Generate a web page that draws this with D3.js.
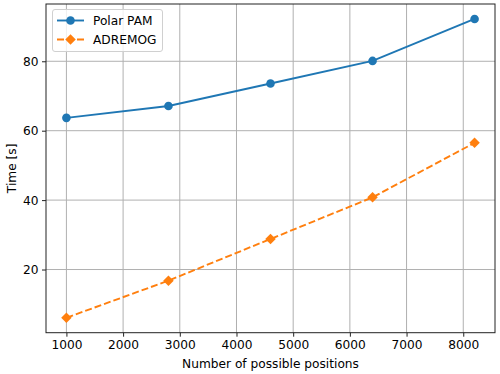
<!DOCTYPE html>
<html><head><meta charset="utf-8">
<script src="https://cdn.jsdelivr.net/npm/d3@7"></script>
<style>body{margin:0;background:#fff}svg{display:block;font-family:"DejaVu Sans",sans-serif}</style>
</head><body><svg id="c" width="500" height="374"></svg>
<script>
const positions = [1000, 2800, 4600, 6400, 8200];
const polarPAM = [63.7, 67.1, 73.6, 80.1, 92.2];
const adremog = [6.1, 16.8, 28.8, 40.8, 56.5];
const xTicks = [1000, 2000, 3000, 4000, 5000, 6000, 7000, 8000];
const yTicks = [20, 40, 60, 80];
const seriesNames = ["Polar PAM", "ADREMOG"];
const colors = ["#1f77b4", "#ff7f0e"];

const svg = d3.select("#c");
const L = 46, R = 495, T = 4, B = 332.7;
const x = d3.scaleLinear().domain([640, 8560]).range([L, R]);
const y = d3.scaleLinear().domain([1.8, 96.5]).range([B, T]);
const fs = 12.2;
const lw = 1.9, dash = "7,3";

// grid
const g = svg.append("g");
g.selectAll(".gx").data(xTicks).enter().append("line")
  .attr("x1", d => x(d)).attr("x2", d => x(d)).attr("y1", T).attr("y2", B)
  .attr("stroke", "#b0b0b0").attr("stroke-width", 1);
g.selectAll(".gy").data(yTicks).enter().append("line")
  .attr("y1", d => y(d)).attr("y2", d => y(d)).attr("x1", L).attr("x2", R)
  .attr("stroke", "#b0b0b0").attr("stroke-width", 1);

// axes
const xa = svg.append("g").attr("transform", `translate(0,${B})`)
  .call(d3.axisBottom(x).tickValues(xTicks).tickSize(4).tickPadding(3.5).tickFormat(d3.format("d")));
const ya = svg.append("g").attr("transform", `translate(${L},0)`)
  .call(d3.axisLeft(y).tickValues(yTicks).tickSize(4).tickPadding(3.5).tickFormat(d3.format("d")));
[xa, ya].forEach(a => {
  a.select(".domain").remove();
  a.selectAll("text").attr("font-size", fs).attr("fill", "#000").attr("font-family", "DejaVu Sans");
  a.selectAll("line").attr("stroke", "#222").attr("stroke-width", 1);
});
svg.append("rect").attr("x", L).attr("y", T).attr("width", R - L).attr("height", B - T)
  .attr("fill", "none").attr("stroke", "#222").attr("stroke-width", 1);

// labels
svg.append("text").attr("x", (L + R) / 2).attr("y", 368).attr("text-anchor", "middle")
  .attr("font-size", fs).text("Number of possible positions");
svg.append("text").attr("transform", `translate(16,${(T + B) / 2}) rotate(-90)`)
  .attr("text-anchor", "middle").attr("font-size", fs).text("Time [s]");

// series
const line = d3.line().x((d, i) => x(positions[i])).y(d => y(d));
const data = [polarPAM, adremog];
data.forEach((vals, k) => {
  svg.append("path").datum(vals).attr("d", line).attr("fill", "none")
    .attr("stroke", colors[k]).attr("stroke-width", lw)
    .attr("stroke-dasharray", k === 1 ? dash : null);
});
svg.selectAll(".c1").data(polarPAM).enter().append("circle")
  .attr("cx", (d, i) => x(positions[i])).attr("cy", d => y(d)).attr("r", 4.3).attr("fill", colors[0]);
const diamond = d3.symbol().type(d3.symbolDiamond2).size(70);
svg.selectAll(".c2").data(adremog).enter().append("path")
  .attr("d", diamond).attr("transform", (d, i) => `translate(${x(positions[i])},${y(d)})`)
  .attr("fill", colors[1]);

// legend
const lg = svg.append("g");
lg.append("rect").attr("x", 52.5).attr("y", 9.5).attr("width", 110).attr("height", 42).attr("rx", 2.5)
  .attr("fill", "#fff").attr("fill-opacity", 0.8).attr("stroke", "#d0d0d0").attr("stroke-width", 1);
const ly = [20.5, 39.5];
seriesNames.forEach((n, k) => {
  lg.append("line").attr("x1", 57).attr("x2", 84).attr("y1", ly[k]).attr("y2", ly[k])
    .attr("stroke", colors[k]).attr("stroke-width", lw).attr("stroke-dasharray", k === 1 ? dash : null);
  if (k === 0) lg.append("circle").attr("cx", 70.5).attr("cy", ly[k]).attr("r", 4.3).attr("fill", colors[0]);
  else lg.append("path").attr("d", diamond).attr("transform", `translate(70.5,${ly[k]})`).attr("fill", colors[1]);
  lg.append("text").attr("x", 93).attr("y", ly[k]).attr("dy", "0.36em").attr("font-size", fs).text(n);
});
</script></body></html>
